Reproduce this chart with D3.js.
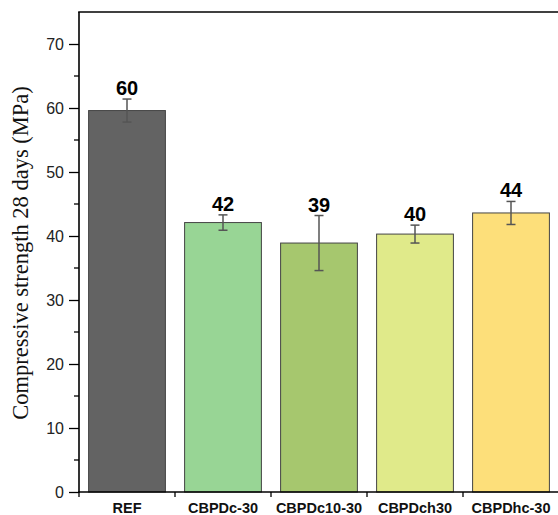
<!DOCTYPE html>
<html>
<head>
<meta charset="utf-8">
<script src="https://cdn.jsdelivr.net/npm/d3@7"></script>
<style>
  html, body { margin: 0; padding: 0; background: #fff; }
  svg { display: block; }
</style>
</head>
<body>
<svg id="chart" width="558" height="515"></svg>
<script>
// Compressive strength at 28 days for each mix
const categories = ["REF", "CBPDc-30", "CBPDc10-30", "CBPDch30", "CBPDhc-30"];
const strength = [59.6, 42.1, 38.9, 40.3, 43.6];
const errors = [1.8, 1.2, 4.3, 1.4, 1.8];
const valueLabels = ["60", "42", "39", "40", "44"];
const barColors = ["#636363", "#98d595", "#a6c76e", "#e0ea8a", "#fddf7a"];
const yTicks = [0, 10, 20, 30, 40, 50, 60, 70];
const yTitle = "Compressive strength 28 days (MPa)";

const svg = d3.select("#chart");
const plotLeft = 79, plotTop = 12, plotBottom = 492, plotRight = 559;

const x = d3.scaleBand().domain(categories).range([plotLeft, plotRight]).paddingInner(0.2).paddingOuter(0.1);
const y = d3.scaleLinear().domain([0, 75]).range([plotBottom, plotTop]);

const rows = categories.map((c, i) => ({ c, v: strength[i], e: errors[i], label: valueLabels[i], color: barColors[i] }));

// bars
svg.append("g").selectAll("rect").data(rows).join("rect")
  .attr("x", d => x(d.c))
  .attr("y", d => y(d.v))
  .attr("width", x.bandwidth())
  .attr("height", d => y(0) - y(d.v))
  .attr("fill", d => d.color)
  .attr("stroke", "#444")
  .attr("stroke-width", 1);

// error bars
const eb = svg.append("g").attr("stroke", "#555").attr("stroke-width", 1.5).attr("fill", "none");
rows.forEach(d => {
  const cx = x(d.c) + x.bandwidth() / 2;
  eb.append("line").attr("x1", cx).attr("x2", cx).attr("y1", y(d.v + d.e)).attr("y2", y(d.v - d.e));
  eb.append("line").attr("x1", cx - 4.5).attr("x2", cx + 4.5).attr("y1", y(d.v + d.e)).attr("y2", y(d.v + d.e));
  eb.append("line").attr("x1", cx - 4.5).attr("x2", cx + 4.5).attr("y1", y(d.v - d.e)).attr("y2", y(d.v - d.e));
});

// value labels
svg.append("g").selectAll("text").data(rows).join("text")
  .attr("x", d => x(d.c) + x.bandwidth() / 2)
  .attr("y", d => y(d.v + d.e) - 4)
  .attr("text-anchor", "middle")
  .attr("font-family", "Liberation Sans, Arial, sans-serif")
  .attr("font-weight", "bold")
  .attr("font-size", 20)
  .attr("fill", "#000")
  .text(d => d.label);

// y axis with major and minor ticks
const yAxis = d3.axisLeft(y).tickValues(yTicks).tickSize(10).tickPadding(5).tickFormat(d3.format("d"));
const gy = svg.append("g").attr("transform", `translate(${plotLeft},0)`).call(yAxis);
gy.select(".domain").remove();
gy.selectAll(".tick line").attr("stroke", "#000").attr("stroke-width", 1.3);
gy.selectAll(".tick text")
  .attr("font-family", "Liberation Sans, Arial, sans-serif")
  .attr("font-size", 16)
  .attr("fill", "#222");
const minor = d3.range(5, 75, 10);
svg.append("g").selectAll("line").data(minor).join("line")
  .attr("x1", plotLeft - 5).attr("x2", plotLeft)
  .attr("y1", d => y(d)).attr("y2", d => y(d))
  .attr("stroke", "#000").attr("stroke-width", 1.3);

// x axis ticks between categories
const bounds = categories.map(c => x(c) - x.step() * x.paddingInner() / 2);
svg.append("g").selectAll("line").data(bounds).join("line")
  .attr("x1", d => d).attr("x2", d => d)
  .attr("y1", plotBottom).attr("y2", plotBottom + 5)
  .attr("stroke", "#000").attr("stroke-width", 1.3);

// x category labels
svg.append("g").selectAll("text").data(categories).join("text")
  .attr("x", d => x(d) + x.bandwidth() / 2)
  .attr("y", 513)
  .attr("text-anchor", "middle")
  .attr("font-family", "Liberation Sans, Arial, sans-serif")
  .attr("font-weight", "bold")
  .attr("font-size", 14.5)
  .attr("fill", "#111")
  .text(d => d);

// frame: left axis, bottom axis, top border
const frame = svg.append("g").attr("stroke", "#000").attr("stroke-width", 1.6);
frame.append("line").attr("x1", plotLeft).attr("x2", plotLeft).attr("y1", plotTop).attr("y2", plotBottom + 0.8);
frame.append("line").attr("x1", plotLeft - 0.8).attr("x2", 558).attr("y1", plotBottom).attr("y2", plotBottom);
frame.append("line").attr("x1", plotLeft - 0.8).attr("x2", 558).attr("y1", plotTop).attr("y2", plotTop);

// y axis title
svg.append("text")
  .attr("transform", `translate(28,${(plotTop + plotBottom) / 2 + 1}) rotate(-90)`)
  .attr("text-anchor", "middle")
  .attr("font-family", "Liberation Serif, Times New Roman, serif")
  .attr("font-size", 22.5)
  .attr("fill", "#111")
  .text(yTitle);
</script>
</body>
</html>
